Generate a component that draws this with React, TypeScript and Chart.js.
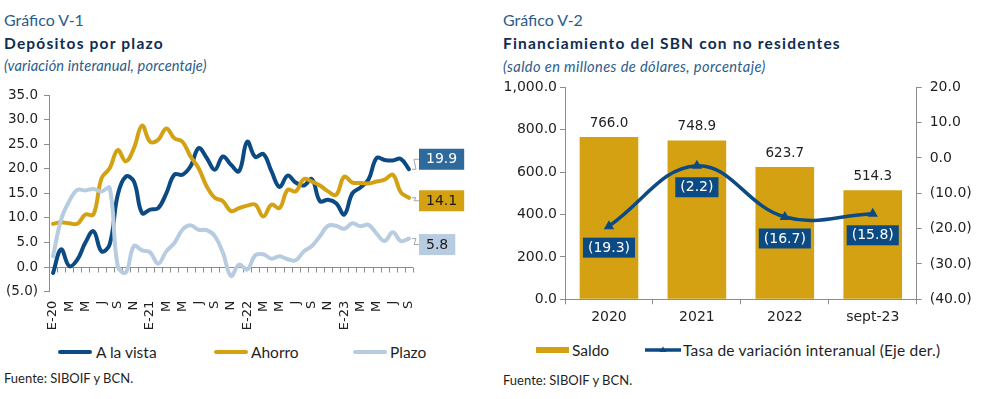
import React, { useEffect, useRef } from 'react';
import { Chart, registerables } from 'chart.js';

Chart.register(...registerables);

// ---------- Data: Gráfico V-1 ----------
const monthCategories = [
  'E-20', 'F-20', 'M-20', 'A-20', 'M-20b', 'J-20', 'J-20b', 'A-20b', 'S-20', 'O-20', 'N-20', 'D-20',
  'E-21', 'F-21', 'M-21', 'A-21', 'M-21b', 'J-21', 'J-21b', 'A-21b', 'S-21', 'O-21', 'N-21', 'D-21',
  'E-22', 'F-22', 'M-22', 'A-22', 'M-22b', 'J-22', 'J-22b', 'A-22b', 'S-22', 'O-22', 'N-22', 'D-22',
  'E-23', 'F-23', 'M-23', 'A-23', 'M-23b', 'J-23', 'J-23b', 'A-23b', 'S-23',
];
const monthTickLabels = [
  'E-20', '', 'M', '', 'M', '', 'J', '', 'S', '', 'N', '',
  'E-21', '', 'M', '', 'M', '', 'J', '', 'S', '', 'N', '',
  'E-22', '', 'M', '', 'M', '', 'J', '', 'S', '', 'N', '',
  'E-23', '', 'M', '', 'M', '', 'J', '', 'S',
];
const aLaVista = [
  -1.2, 3.6, 0.2, 1.5, 5.0, 7.3, 3.2, 4.6, 14.7, 18.4,
  17.4, 11.0, 11.7, 12.0, 15.0, 18.8, 18.8, 20.5, 24.2, 22.2,
  19.8, 22.5, 20.8, 19.5, 25.5, 22.4, 23.0, 19.5, 16.3, 18.6,
  17.2, 16.6, 17.9, 13.4, 13.7, 13.0, 10.7, 15.0, 16.2, 17.8,
  22.2, 21.8, 21.7, 22.0, 19.9,
];
const ahorro = [
  8.8, 9.1, 8.9, 8.8, 10.7, 10.7, 18.1, 20.1, 23.8, 21.5,
  24.2, 28.8, 25.5, 25.9, 28.2, 26.2, 25.5, 22.5, 20.1, 16.4,
  14.1, 13.4, 11.4, 12.0, 12.5, 12.7, 10.3, 12.7, 12.0, 15.7,
  15.4, 17.9, 17.4, 16.6, 15.4, 14.7, 18.4, 17.2, 17.1, 17.0,
  17.4, 17.8, 18.8, 15.2, 14.1,
];
const plazo = [
  2.2, 9.7, 13.4, 15.7, 15.6, 15.9, 15.4, 16.1, 0.2, -1.1,
  4.3, 3.4, 3.0, 0.7, 3.2, 4.9, 7.6, 8.5, 7.6, 7.5,
  6.3, 2.9, -1.8, 0.5, -0.5, 2.4, 2.6, 1.7, 2.2, 1.6,
  1.4, 3.2, 4.3, 6.3, 8.4, 8.4, 7.8, 8.9, 8.3, 8.6,
  6.8, 5.3, 7.1, 5.3, 5.8,
];
const leftSeriesNames = ['A la vista', 'Ahorro', 'Plazo'];

// ---------- Data: Gráfico V-2 ----------
const years = ['2020', '2021', '2022', 'sept-23'];
const saldo = [766.0, 748.9, 623.7, 514.3];
const tasa = [-19.3, -2.2, -16.7, -15.8];
const rightSeriesNames = ['Saldo', 'Tasa de variación interanual (Eje der.)'];

// ---------- Styles ----------
const NAVY = '#0C4A83';
const GOLD = '#D4A112';
const LIGHT = '#B7CCE0';
const MID_BLUE = '#2E6A9C';
const AXIS = '#8C8C8C';
const TXT = '#1F1F1F';
const TICK_FAMILY = '"DejaVu Sans", Verdana, sans-serif';
const TEXT_FAMILY = 'Lato, "Open Sans", sans-serif';

const fmt = (v: number) => {
  const s = Math.abs(v).toLocaleString('en-US', { minimumFractionDigits: 1, maximumFractionDigits: 1 });
  return v < 0 ? `(${s})` : s;
};

const endLabelStyle = [
  { fill: MID_BLUE, text: '#FFFFFF', dy: -10 },
  { fill: GOLD, text: '#1A1A1A', dy: 3 },
  { fill: LIGHT, text: '#1A1A1A', dy: 6 },
];

const zeroAxisPlugin = {
  id: 'zeroAxis',
  beforeDatasetsDraw(chart: any) {
    const { ctx, chartArea } = chart;
    const xs = chart.scales.x;
    const ys = chart.scales.y;
    const y0 = ys.getPixelForValue(0);
    const n = chart.data.labels.length;
    const step = xs.getPixelForValue(1) - xs.getPixelForValue(0);
    ctx.save();
    ctx.strokeStyle = AXIS;
    ctx.lineWidth = 1;
    ctx.beginPath();
    ctx.moveTo(chartArea.left, Math.round(y0) + 0.5);
    ctx.lineTo(chartArea.right, Math.round(y0) + 0.5);
    for (let k = 0; k <= n; k++) {
      const x = Math.round(xs.getPixelForValue(0) - step / 2 + k * step) + 0.5;
      ctx.moveTo(x, Math.round(y0) + 0.5);
      ctx.lineTo(x, Math.round(y0) + 5.5);
    }
    ctx.stroke();
    ctx.restore();
  },
};

const endLabelsPlugin = {
  id: 'endLabels',
  afterDatasetsDraw(chart: any) {
    const { ctx, chartArea } = chart;
    ctx.save();
    chart.data.datasets.forEach((ds: any, i: number) => {
      const meta = chart.getDatasetMeta(i);
      const pt = meta.data[meta.data.length - 1];
      const v = ds.data[ds.data.length - 1];
      const st = endLabelStyle[i];
      const txt = fmt(v);
      ctx.font = `14px ${TICK_FAMILY}`;
      const tw = ctx.measureText(txt).width;
      const bx = chartArea.right + 6;
      const cy = pt.y + st.dy;
      const bh = 21;
      const bw = tw + 14;
      ctx.strokeStyle = '#A6A6A6';
      ctx.lineWidth = 1;
      ctx.beginPath();
      ctx.moveTo(pt.x + 3, pt.y);
      ctx.lineTo(pt.x + 7, pt.y);
      ctx.lineTo(bx - 5, cy);
      ctx.lineTo(bx, cy);
      ctx.stroke();
      ctx.fillStyle = st.fill;
      ctx.fillRect(bx, cy - bh / 2, bw, bh);
      ctx.fillStyle = st.text;
      ctx.textAlign = 'center';
      ctx.textBaseline = 'middle';
      ctx.fillText(txt, bx + bw / 2, cy + 0.5);
    });
    ctx.restore();
  },
};

const rightLabelsPlugin = {
  id: 'rightLabels',
  afterDatasetsDraw(chart: any) {
    const { ctx } = chart;
    ctx.save();
    ctx.textAlign = 'center';
    ctx.textBaseline = 'middle';
    const barMeta = chart.getDatasetMeta(1);
    ctx.font = `13.5px ${TICK_FAMILY}`;
    ctx.fillStyle = TXT;
    barMeta.data.forEach((bar: any, i: number) => {
      ctx.fillText(fmt(chart.data.datasets[1].data[i]), bar.x, bar.y - 13.6);
    });
    const lineMeta = chart.getDatasetMeta(0);
    ctx.font = `14px ${TICK_FAMILY}`;
    lineMeta.data.forEach((pt: any, i: number) => {
      const txt = fmt(chart.data.datasets[0].data[i]);
      const tw = ctx.measureText(txt).width;
      const bw = tw + 10;
      const bh = 20;
      const cy = pt.y + 21.5;
      ctx.fillStyle = NAVY;
      ctx.fillRect(pt.x - bw / 2, cy - bh / 2, bw, bh);
      ctx.fillStyle = '#FFFFFF';
      ctx.fillText(txt, pt.x, cy + 0.5);
    });
    ctx.restore();
  },
};

const absText = (left: number, centerY: number, size: number, extra: any = {}) => ({
  position: 'absolute' as const,
  left,
  top: centerY - 10,
  height: 20,
  lineHeight: '20px',
  fontSize: size,
  whiteSpace: 'nowrap' as const,
  fontFamily: TEXT_FAMILY,
  ...extra,
});

export default function App() {
  const leftRef = useRef<HTMLCanvasElement>(null);
  const rightRef = useRef<HTMLCanvasElement>(null);

  useEffect(() => {
    const tickFont = { family: TICK_FAMILY, size: 13.5 };
    const left = new Chart(leftRef.current!, {
      type: 'line',
      data: {
        labels: monthCategories,
        datasets: [
          { label: leftSeriesNames[0], data: aLaVista, borderColor: NAVY, backgroundColor: NAVY, borderWidth: 4, pointRadius: 0, tension: 0.4, order: 2, borderCapStyle: 'round' },
          { label: leftSeriesNames[1], data: ahorro, borderColor: GOLD, backgroundColor: GOLD, borderWidth: 4, pointRadius: 0, tension: 0.4, order: 1, borderCapStyle: 'round' },
          { label: leftSeriesNames[2], data: plazo, borderColor: LIGHT, backgroundColor: LIGHT, borderWidth: 4, pointRadius: 0, tension: 0.4, order: 0, borderCapStyle: 'round' },
        ],
      } as any,
      options: {
        animation: false,
        responsive: false,
        layout: { padding: { top: 15, left: 0, right: 0, bottom: 0 } },
        plugins: { legend: { display: false }, tooltip: { enabled: false } },
        scales: {
          x: {
            type: 'category',
            offset: true,
            grid: { display: false, drawTicks: false },
            border: { display: false },
            ticks: {
              autoSkip: false,
              minRotation: 90,
              maxRotation: 90,
              padding: 9,
              color: TXT,
              font: { family: TICK_FAMILY, size: 13 },
              callback: (_v: any, i: number) => monthTickLabels[i],
            },
            afterFit: (s: any) => { s.height = 43.3; },
          },
          y: {
            min: -5,
            max: 35,
            ticks: { stepSize: 5, callback: (v: any) => fmt(Number(v)), padding: 6, color: TXT, font: tickFont },
            grid: { drawOnChartArea: false, tickLength: 5, color: AXIS },
            border: { color: AXIS },
            afterFit: (s: any) => { s.width = 49; },
          },
          yPad: {
            position: 'right',
            display: true,
            ticks: { display: false },
            grid: { display: false, drawTicks: false },
            border: { display: false },
            afterFit: (s: any) => { s.width = 67; },
          },
        },
      } as any,
      plugins: [zeroAxisPlugin, endLabelsPlugin],
    });

    const rFont = { family: TICK_FAMILY, size: 14 };
    const right = new Chart(rightRef.current!, {
      type: 'bar',
      data: {
        labels: years,
        datasets: [
          {
            type: 'line', label: rightSeriesNames[1], data: tasa, yAxisID: 'y1',
            borderColor: NAVY, backgroundColor: NAVY, borderWidth: 3.5, tension: 0.4,
            pointStyle: 'triangle', pointRadius: 6, pointBorderWidth: 0, order: 0,
          },
          {
            type: 'bar', label: rightSeriesNames[0], data: saldo, yAxisID: 'y',
            backgroundColor: GOLD, barPercentage: 0.667, categoryPercentage: 1, order: 1,
          },
        ],
      } as any,
      options: {
        animation: false,
        responsive: false,
        layout: { autoPadding: false, padding: { top: 8.3, left: 0, right: 0, bottom: 0 } },
        plugins: { legend: { display: false }, tooltip: { enabled: false } },
        scales: {
          x: {
            offset: true,
            grid: { offset: true, drawOnChartArea: false, tickLength: 5, color: AXIS },
            border: { color: AXIS },
            ticks: { padding: 5, color: TXT, font: rFont },
            afterFit: (s: any) => { s.height = 30.7; },
          },
          y: {
            position: 'left', min: 0, max: 1000,
            ticks: { stepSize: 200, callback: (v: any) => fmt(Number(v)), padding: 3, color: TXT, font: rFont },
            grid: { drawOnChartArea: false, tickLength: 5, color: AXIS },
            border: { color: AXIS },
            afterFit: (s: any) => { s.width = 70; s.paddingTop = 0; s.paddingBottom = 0; },
          },
          y1: {
            position: 'right', min: -40, max: 20,
            ticks: { stepSize: 10, callback: (v: any) => fmt(Number(v)), padding: 8, color: TXT, font: rFont },
            grid: { drawOnChartArea: false, tickLength: 5, color: AXIS },
            border: { color: AXIS },
            afterFit: (s: any) => { s.width = 68.3; s.paddingTop = 0; s.paddingBottom = 0; },
          },
        },
      } as any,
      plugins: [rightLabelsPlugin],
    });

    return () => {
      left.destroy();
      right.destroy();
    };
  }, []);

  const titleColor = '#2B5C8A';
  const headColor = '#0F2D52';
  const swatchLine = (left: number, cy: number, color: string) => (
    <div style={{ position: 'absolute', left, top: cy - 2, width: 34, height: 4, background: color, borderRadius: 2 }} />
  );

  return (
    <div style={{ position: 'absolute', left: 0, top: 0, width: 985, height: 399, background: '#fff', overflow: 'hidden', color: TXT }}>
      {/* Left chart texts */}
      <div style={absText(4, 20, 16, { color: titleColor })}>Gráfico V-1</div>
      <div style={absText(4, 43, 15.5, { color: headColor, fontWeight: 700, letterSpacing: 1.2 })}>Depósitos por plazo</div>
      <div style={absText(4, 66, 14.6, { color: titleColor, fontStyle: 'italic', letterSpacing: 0.15 })}>(variación interanual, porcentaje)</div>
      <canvas ref={leftRef} width={480} height={255} style={{ position: 'absolute', left: 0, top: 80, width: 480, height: 255 }} />
      {swatchLine(58, 352, NAVY)}
      <div style={absText(96, 352, 15.5)}>{leftSeriesNames[0]}</div>
      {swatchLine(214, 352, GOLD)}
      <div style={absText(251, 352, 15.5)}>{leftSeriesNames[1]}</div>
      {swatchLine(353, 352, LIGHT)}
      <div style={absText(390, 352, 15.5)}>{leftSeriesNames[2]}</div>
      <div style={absText(4, 378, 13)}>Fuente: SIBOIF y BCN.</div>

      {/* Right chart texts */}
      <div style={absText(503, 20, 16, { color: titleColor })}>Gráfico V-2</div>
      <div style={absText(503, 43, 15.5, { color: headColor, fontWeight: 700, letterSpacing: 1.2 })}>Financiamiento del SBN con no residentes</div>
      <div style={absText(503, 67, 14.6, { color: titleColor, fontStyle: 'italic', letterSpacing: 0.4 })}>(saldo en millones de dólares, porcentaje)</div>
      <canvas ref={rightRef} width={490} height={251} style={{ position: 'absolute', left: 495, top: 79, width: 490, height: 251 }} />
      <div style={{ position: 'absolute', left: 536, top: 347, width: 33, height: 6, background: GOLD }} />
      <div style={absText(572, 350, 15.5)}>{rightSeriesNames[0]}</div>
      <svg style={{ position: 'absolute', left: 645, top: 345 }} width={36} height={10}>
        <line x1={0} y1={5} x2={36} y2={5} stroke={NAVY} strokeWidth={3.5} />
        <polygon points="18,1.5 21.5,7 14.5,7" fill={NAVY} />
      </svg>
      <div style={absText(683, 350, 15.5, { letterSpacing: 0.2 })}>{rightSeriesNames[1]}</div>
      <div style={absText(503, 380, 13)}>Fuente: SIBOIF y BCN.</div>
    </div>
  );
}
